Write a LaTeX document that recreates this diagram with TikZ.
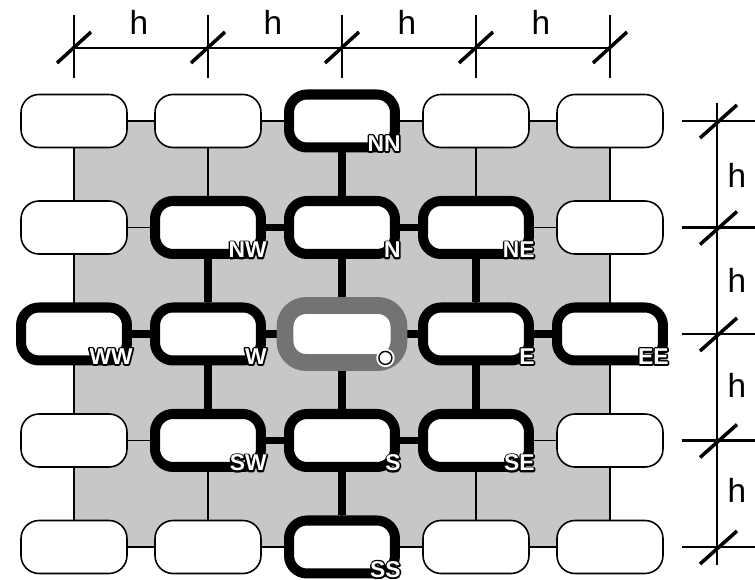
\documentclass[tikz,border=0pt]{standalone}
\usepackage{fontspec}
\setmainfont{Liberation Sans}
\usepackage{tikz}
\usetikzlibrary{backgrounds}

% white letters with a black outline
\newcommand\outl[1]{\rlap{\special{pdf:literal direct 1 Tr 1.8 w 1 j 0 0 0 RG}#1\special{pdf:literal direct 0 Tr}}#1}

\tikzset{
  cell/.style={rectangle, rounded corners=0.36cm, minimum width=2.12cm, minimum height=1.06cm, inner sep=0pt, fill=white},
  free/.style={cell, draw=black, line width=0.9pt},
  used/.style={cell, draw=black, line width=5.7pt},
  home/.style={cell, draw=black!55, line width=9.6pt, minimum width=2.28cm, minimum height=1.14cm, rounded corners=0.42cm},
  link/.style={line width=4pt},
  gridline/.style={line width=0.7pt},
  lbl/.style={inner sep=0pt, anchor=east, text=white, font=\fontsize{13}{15}\selectfont\bfseries},
  dimline/.style={line width=1.4pt},
  slash/.style={line width=2pt},
  hlbl/.style={font=\fontsize{19}{22}\selectfont},
  ctrmark/.style={circle, draw=black, line width=0.8pt, fill=white, inner sep=0pt, minimum size=0.26cm,
    preaction={draw=white, line width=3pt},
    path picture={\fill (path picture bounding box.center) circle (0.05cm);}}
}

\begin{document}
\begin{tikzpicture}[x=0.02cm,y=-0.02cm]
\useasboundingbox (0,0) rectangle (755,580);

% unused cells
\foreach \nm/\c/\r in {q00/0/0,q10/1/0,q30/3/0,q40/4/0,q01/0/1,q41/4/1,
                       q03/0/3,q43/4/3,q04/0/4,q14/1/4,q34/3/4,q44/4/4}
  \node[free] (\nm) at (74+134*\c,121+106.5*\r) {};

% stencil cells
\foreach \nm/\c/\r in {nn/2/0,nw/1/1,n/2/1,ne/3/1,ww/0/2,w/1/2,
                       e/3/2,ee/4/2,sw/1/3,s/2/3,se/3/3,ss/2/4}
  \node[used] (\nm) at (74+134*\c,121+106.5*\r) {};
\node[home] (o) at (342,334) {};

\begin{scope}[on background layer]
\fill[black!22] (q00.center) rectangle (q44.center);
\draw[gridline] (q00.center) -- (q04.center);
\draw[gridline] (q10.center) -- (q14.center);
\draw[gridline] (nn.center) -- (ss.center);
\draw[gridline] (q30.center) -- (q34.center);
\draw[gridline] (q40.center) -- (q44.center);
\draw[gridline] (q00.center) -- (q40.center);
\draw[gridline] (q01.center) -- (q41.center);
\draw[gridline] (ww.center) -- (ee.center);
\draw[gridline] (q03.center) -- (q43.center);
\draw[gridline] (q04.center) -- (q44.center);
\foreach \a/\b in {nn/n,nw/n,n/ne,nw/w,n/o,ne/e,ww/w,w/o,o/e,e/ee,
                   w/sw,o/s,e/se,sw/s,s/se,s/ss}
  \draw[link] (\a) -- (\b);
\end{scope}

% labels
\foreach \nm/\lab in {nn/NN,nw/NW,n/N,ne/NE,ww/WW,w/W,e/E,ee/EE,sw/SW,s/S,se/SE,ss/SS}
  \node[lbl] (\nm-lbl) at ([shift={(1,-9)}]\nm.south east) {\outl{\lab}};
\node[ctrmark] (o-lbl) at ([shift={(-22,-13)}]o.south east) {};

% spacing h
\foreach \c in {0,...,4} \coordinate (t\c) at (74+134*\c,48);
\foreach \r in {0,...,4} \coordinate (r\r) at (717,121+106.5*\r);
\draw[dimline] (t0) -- (t4);
\draw[dimline] ([shift={(0,-18)}]r0) -- ([shift={(0,18)}]r4);
\foreach \i in {0,...,4}{
  \draw[dimline] ([shift={(0,-33)}]t\i) -- ([shift={(0,30)}]t\i);
  \draw[slash] ([shift={(-17,15)}]t\i) -- ([shift={(17,-16)}]t\i);
  \draw[dimline] ([shift={(-35,0)}]r\i) -- ([shift={(38,0)}]r\i);
  \draw[slash] ([shift={(-17,17)}]r\i) -- ([shift={(20,-16)}]r\i);
}
\foreach \c in {0,...,3} \node[hlbl] (ht\c) at (139+134*\c,22) {h};
\foreach \r in {0,...,3} \node[hlbl] (hr\r) at (737,175+105*\r) {h};
\end{tikzpicture}
\end{document}
